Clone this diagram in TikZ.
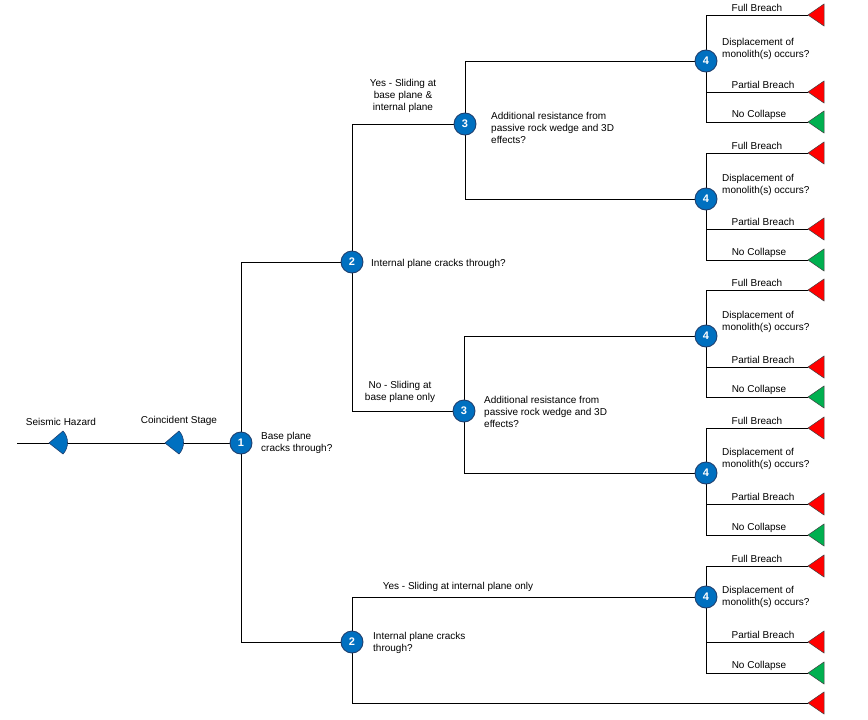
\documentclass[tikz,border=0pt]{standalone}
\usepackage{fontspec}
\setmainfont{Liberation Sans}
\usetikzlibrary{backgrounds}
\definecolor{decblue}{HTML}{0070C0}
\definecolor{decedge}{HTML}{1F3F6E}
\definecolor{termred}{HTML}{FF0000}
\definecolor{termgreen}{HTML}{00B050}
\definecolor{termedge}{HTML}{404040}
\begin{document}
\begin{tikzpicture}[x=1pt,y=-1pt,
 conn/.style={draw=black, line width=0.8pt},
 decision/.style={circle, fill=decblue, draw=decedge, line width=0.9pt, minimum size=22pt, inner sep=0pt, text=white, font=\fontsize{11}{11}\selectfont\bfseries},
 lbl/.style={font=\fontsize{10}{11.8}\selectfont, inner sep=0pt, align=center},
 qlbl/.style={lbl, anchor=west, align=left},
 pics/term/.style={code={\coordinate (-apex) at (0,0); \draw[draw=termedge, line width=0.5pt, fill=#1] (0,0) -- (16,-11) -- (16,11) -- cycle;}},
 pics/chance/.style={code={\coordinate (-apex) at (0,0); \draw[draw=decedge, line width=0.6pt, fill=decblue] (0,0) -- (14,-12) .. controls (20,-6) and (20,5) .. (14,11) -- cycle;}},
]
\useasboundingbox (0,0) rectangle (868,720);
% root chain
\coordinate (start) at (17,443);
\pic (sh) at (49,443) {chance};
\pic (cs) at (165,443) {chance};
\node[decision] (c1) at (241,443) {1};
\node[lbl] (lsh) at (61,422) {Seismic Hazard};
\node[lbl] (lcs) at (179,421) {Coincident Stage};
\node[qlbl] (q1) at (261,443) {Base plane\\cracks through?};
% level 2
\node[decision] (c2a) at (352,262) {2};
\node[decision] (c2b) at (352,642) {2};
\node[qlbl] (q2a) at (371,264) {Internal plane cracks through?};
\node[qlbl] (q2b) at (373,643) {Internal plane cracks\\through?};
% level 3
\node[decision] (c3a) at (465,124) {3};
\node[decision] (c3b) at (464,411) {3};
\node[lbl] (ya) at (403,96) {Yes - Sliding at\\base plane \&\\internal plane};
\node[lbl] (nb) at (400,392) {No - Sliding at\\base plane only};
\node[qlbl] (q3a) at (491,128) {Additional resistance from\\passive rock wedge and 3D\\effects?};
\node[qlbl] (q3b) at (484,412) {Additional resistance from\\passive rock wedge and 3D\\effects?};
\node[lbl] (ye) at (458,587) {Yes - Sliding at internal plane only};
\pic (tbot) at (808,703) {term=termred};
% level 4 groups
\foreach \n/\cy/\f/\d/\p/\q in {a/61/15/49/92/122, b/199/153/185/229/260, c/336/290/322/367/397, d/473/428/459/504/535, e/597/566/597/642/673} {
  \node[decision] (c4\n) at (706,\cy) {4};
  \node[qlbl] (q4\n) at (722,\d) {Displacement of\\monolith(s) occurs?};
  \pic (tf\n) at (808,\f) {term=termred};
  \pic (tp\n) at (808,\p) {term=termred};
  \pic (tn\n) at (808,\q) {term=termgreen};
  \node[lbl] (lf\n) at (757,\f-7.5) {Full Breach};
  \node[lbl] (lp\n) at (763,\p-7.5) {Partial Breach};
  \node[lbl] (ln\n) at (759,\q-7.5) {No Collapse};
  \begin{scope}[on background layer]
    \draw[conn] (c4\n) |- (tf\n-apex);
    \draw[conn] (c4\n) |- (tp\n-apex);
    \draw[conn] (c4\n) |- (tn\n-apex);
  \end{scope}
}
\begin{scope}[on background layer]
  \draw[conn] (start) -- (c1);
  \draw[conn] (c1) |- (c2a);
  \draw[conn] (c1) |- (c2b);
  \draw[conn] (c2a) |- (c3a);
  \draw[conn] (c2a) |- (c3b);
  \draw[conn] (c3a) |- (c4a);
  \draw[conn] (c3a) |- (c4b);
  \draw[conn] (c3b) |- (c4c);
  \draw[conn] (c3b) |- (c4d);
  \draw[conn] (c2b) |- (c4e);
  \draw[conn] (c2b) |- (tbot-apex);
\end{scope}
\end{tikzpicture}
\end{document}
